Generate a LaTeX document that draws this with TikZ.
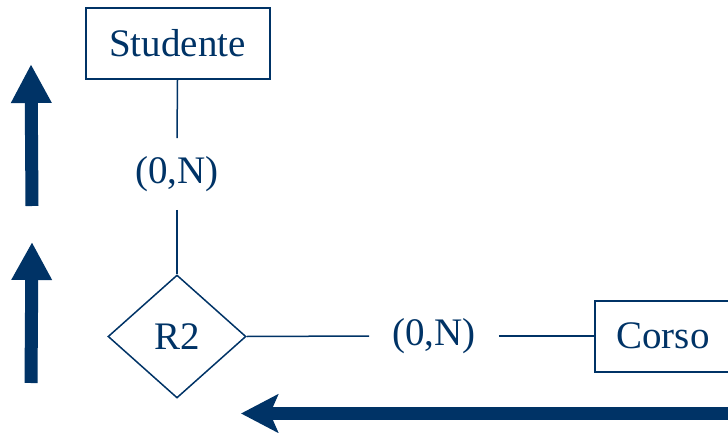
\documentclass[tikz,border=0pt]{standalone}
\usepackage{fontspec}
\setmainfont{Liberation Serif}
\usetikzlibrary{shapes.geometric,arrows.meta}
\definecolor{navy}{RGB}{0,51,102}
\begin{document}
\begin{tikzpicture}[x=1pt,y=-1pt,
  every node/.style={text=navy,font=\fontsize{39}{46}\selectfont},
  entity/.style={draw=navy,line width=2pt,rectangle,minimum height=71pt,inner sep=0pt},
  relation/.style={draw=navy,line width=1.5pt,diamond,minimum width=138pt,minimum height=123pt,inner sep=0pt},
  card/.style={inner xsep=23pt,inner ysep=18pt},
  link/.style={draw=navy,line width=1.5pt},
  bigarrow/.style={draw=navy,line width=13pt}]
  \useasboundingbox (0,0) rectangle (728,433);

  % entities and relationship
  \node[entity,minimum width=184pt] (stud) at (177.5,43.5) {Studente};
  \node[relation] (r2) at (177,336.5) {R2};
  \node[entity,minimum width=136pt] (corso) at (663,336) {Corso};

  % cardinality labels
  \node[card] (c1) at (177,174) {(0,N)};
  \node[card] (c2) at (434,336) {(0,N)};

  % connectors
  \draw[link] (stud.south) -- (c1.north);
  \draw[link] (c1.south) -- (r2.north);
  \draw[link] (r2.east) -- (c2.west);
  \draw[link] (c2.east) -- (corso.west);

  % block arrows
  \coordinate (a1s) at (32,206);
  \coordinate (a1e) at (31,64);
  \coordinate (a2s) at (31,383);
  \coordinate (a2e) at (32,242);
  \coordinate (a3s) at (740,413.5);
  \coordinate (a3e) at (241,413.5);
  \draw[bigarrow,-{Triangle[length=39pt,width=38pt]}] (a1s) -- (a1e);
  \draw[bigarrow,-{Triangle[length=38pt,width=38pt]}] (a2s) -- (a2e);
  \draw[bigarrow,-{Stealth[length=37pt,width=38pt,inset=8pt]}] (a3s) -- (a3e);
\end{tikzpicture}
\end{document}
